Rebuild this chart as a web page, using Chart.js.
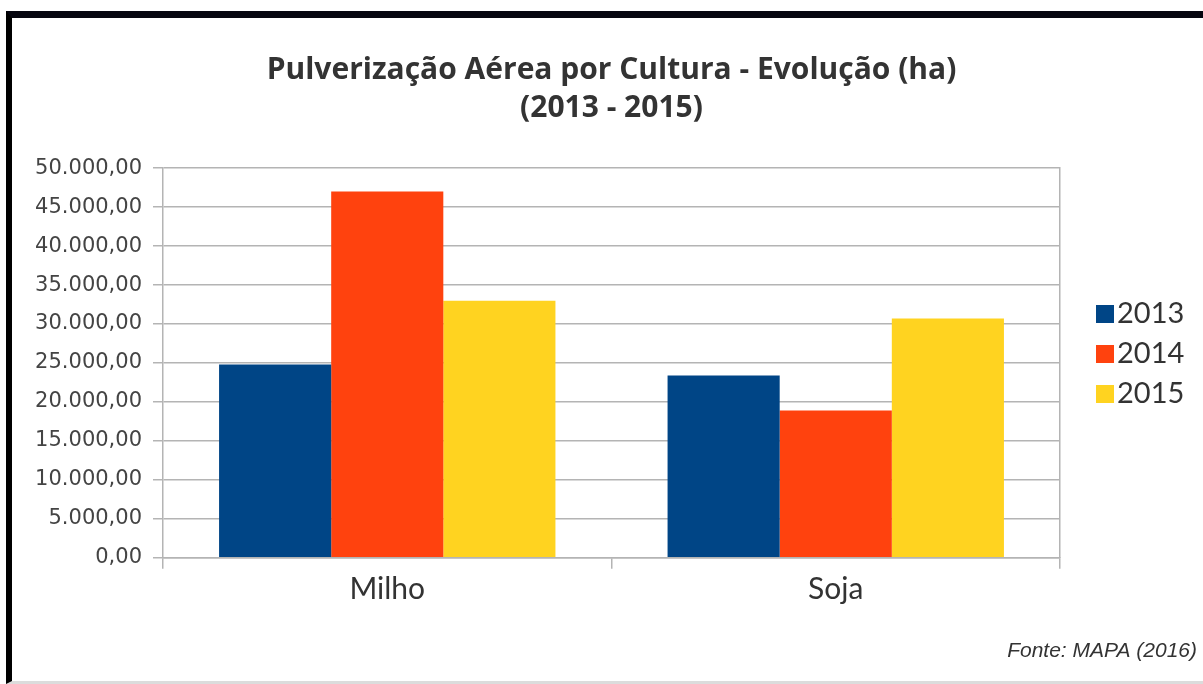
<!DOCTYPE html>
<html><head><meta charset="utf-8">
<script src="https://cdn.jsdelivr.net/npm/chart.js@4"></script>
<style>
html,body{margin:0;padding:0;background:#fff;width:1203px;height:684px;overflow:hidden}
#wrap{position:absolute;left:0;top:0;width:1203px;height:684px}
#frame{position:absolute;left:6px;top:11px;width:1197px;height:673px;box-sizing:border-box;border-top:7px solid #05050f;border-left:6px solid #000;border-bottom:3px solid #dcdcdc;pointer-events:none}
</style></head><body>
<div id="wrap"><canvas id="c"></canvas></div>
<div id="frame"></div>
<script>
const categories = ['Milho', 'Soja'];
const seriesLabels = ['2013', '2014', '2015'];
const values2013 = [24800, 23400];
const values2014 = [47000, 18900];
const values2015 = [33000, 30700];
const seriesColors = ['#004586', '#ff420e', '#ffd320'];
const yTickValues = [0, 5000, 10000, 15000, 20000, 25000, 30000, 35000, 40000, 45000, 50000];
const titleLines = ['Pulverização Aérea por Cultura - Evolução (ha)', '(2013 - 2015)'];
const sourceText = 'Fonte: MAPA (2016)';

function fmtBR(v) {
  const parts = Number(v).toFixed(2).split('.');
  return parts[0].replace(/\B(?=(\d{3})+(?!\d))/g, '.') + ',' + parts[1];
}

const GRID = '#b4b4b4';

const sideLegend = {
  id: 'sideLegend',
  afterDraw(chart) {
    const ctx = chart.ctx, a = chart.chartArea;
    const mid = (a.top + a.bottom) / 2 - 9;
    ctx.save();
    ctx.font = '29px Lato';
    ctx.textBaseline = 'middle';
    ctx.textAlign = 'left';
    chart.data.datasets.forEach((ds, i) => {
      const cy = mid + (i - 1) * 40;
      const x = a.right + 36;
      ctx.fillStyle = ds.backgroundColor;
      ctx.fillRect(x, cy - 9, 18, 18);
      ctx.fillStyle = '#333';
      ctx.fillText(ds.label, x + 21, cy);
    });
    ctx.restore();
  }
};

const seriesValues = [values2013, values2014, values2015];

new Chart(document.getElementById('c'), {
  type: 'bar',
  data: {
    labels: categories,
    datasets: seriesLabels.map((lab, i) => ({
      label: lab,
      data: seriesValues[i],
      backgroundColor: seriesColors[i],
      borderWidth: 0,
      categoryPercentage: 0.75,
      barPercentage: 1.0
    }))
  },
  options: {
    responsive: true,
    maintainAspectRatio: false,
    animation: false,
    layout: { padding: { left: 13, right: 6, top: 0, bottom: 0 } },
    plugins: {
      legend: { display: false },
      tooltip: { enabled: false },
      title: {
        display: true,
        fullSize: false,
        text: titleLines,
        color: '#333',
        font: { family: "'Open Sans'", size: 30, weight: 'bold', lineHeight: 1.27 },
        padding: { top: 51, bottom: 41 }
      },
      subtitle: {
        display: true,
        position: 'bottom',
        align: 'end',
        text: sourceText,
        color: '#333',
        font: { family: "'Liberation Sans Narrow', 'Liberation Sans'", size: 21, style: 'italic', lineHeight: 1.2 },
        padding: { top: 0, bottom: 20 }
      }
    },
    scales: {
      x: {
        offset: true,
        grid: { drawOnChartArea: false, offset: true, color: GRID, tickColor: GRID, tickLength: 11, lineWidth: 1.5 },
        border: { display: true, color: GRID, width: 1.5 },
        ticks: { color: '#333', font: { family: 'Lato', size: 30 }, padding: 3 },
        afterFit(s) { s.height = 81; }
      },
      y: {
        min: 0, max: 50000,
        afterBuildTicks(s) { s.ticks = yTickValues.map(v => ({ value: v })); },
        grid: { color: GRID, tickColor: GRID, tickLength: 10, lineWidth: 1.5 },
        border: { display: true, color: GRID, width: 1.5 },
        ticks: { color: '#444', font: { family: 'DejaVu Sans', size: 21 }, padding: 11, callback: (v) => fmtBR(v) },
        afterFit(s) { s.width = 150; }
      },
      yR: {
        position: 'right',
        min: 0, max: 50000,
        grid: { drawOnChartArea: false, drawTicks: false },
        border: { display: true, color: GRID, width: 1.5 },
        ticks: { display: false },
        afterFit(s) { s.width = 137; }
      }
    }
  },
  plugins: [sideLegend]
});
</script>
</body></html>
